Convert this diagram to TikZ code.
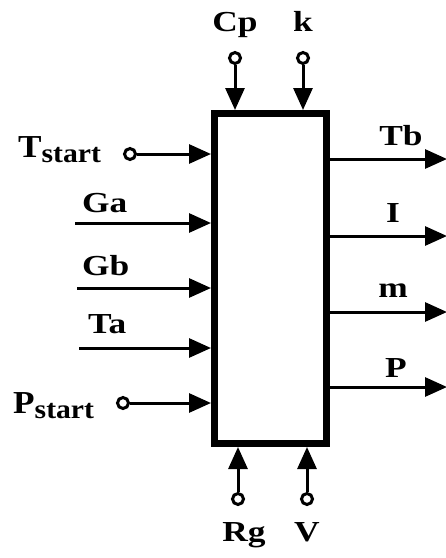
\documentclass[tikz,border=0pt]{standalone}
\usepackage{fontspec}
\setmainfont{Liberation Serif}
\usetikzlibrary{arrows.meta}
\tikzset{
  lbl/.style={inner sep=0pt, font=\bfseries\fontsize{29}{30}\selectfont},
  port/.style={circle, draw, line width=3pt, fill=white, minimum size=11pt, inner sep=0pt},
  conn/.style={line width=3pt, -{Triangle[length=22pt,width=19pt]}},
  block/.style={draw, line width=7pt, minimum width=112pt, minimum height=330pt, inner sep=0pt}
}
\newcommand{\wide}[1]{\scalebox{1.22}[1]{#1}}
\newcommand{\sublbl}[2]{\scalebox{1.1}[1]{\fontsize{32}{32}\selectfont #1\raisebox{-5pt}{\fontsize{27}{30}\selectfont #2}}}
\begin{document}
\begin{tikzpicture}[x=1pt,y=-1pt]
\useasboundingbox (0,0) rectangle (446,558);
\node[block] (box) at (270.5,278.5) {};
% top inputs
\node[port] (cp) at (235,58) {};
\node[port] (k) at (303,58) {};
\draw[conn] (cp) -- (cp |- box.north);
\draw[conn] (k) -- (k |- box.north);
\node[lbl, anchor=base] (lcp) at (235,31) {\wide{Cp}};
\node[lbl, anchor=base] (lk) at (303,31) {\wide{k}};
% bottom inputs
\node[port] (rg) at (238,499) {};
\node[port] (v) at (307,499) {};
\draw[conn] (rg) -- (rg |- box.south);
\draw[conn] (v) -- (v |- box.south);
\node[lbl, anchor=base] (lrg) at (244,541) {\wide{Rg}};
\node[lbl, anchor=base] (lv) at (307,541) {\wide{V}};
% left inputs
\node[port] (ts) at (130,154) {};
\draw[conn] (ts) -- (ts -| box.west);
\node[lbl, anchor=base west] (lts) at (18,157) {\sublbl{T}{start}};
\coordinate (ga) at (75,223);
\draw[conn] (ga) -- (ga -| box.west);
\node[lbl, anchor=base west] (lga) at (82,212) {\wide{Ga}};
\coordinate (gb) at (77,288);
\draw[conn] (gb) -- (gb -| box.west);
\node[lbl, anchor=base west] (lgb) at (82,275) {\wide{Gb}};
\coordinate (ta) at (79,348);
\draw[conn] (ta) -- (ta -| box.west);
\node[lbl, anchor=base west] (lta) at (88,333) {\wide{Ta}};
\node[port] (ps) at (123,403) {};
\draw[conn] (ps) -- (ps -| box.west);
\node[lbl, anchor=base west] (lps) at (13,413) {\sublbl{P}{start}};
% outputs
\coordinate (tb) at (447,159);
\draw[conn] (tb -| box.east) -- (tb);
\node[lbl, anchor=base] (ltb) at (401,145) {\wide{Tb}};
\coordinate (oi) at (447,236);
\draw[conn] (oi -| box.east) -- (oi);
\node[lbl, anchor=base] (li) at (393,222) {\wide{I}};
\coordinate (om) at (447,312);
\draw[conn] (om -| box.east) -- (om);
\node[lbl, anchor=base] (lm) at (393,297) {\wide{m}};
\coordinate (op) at (447,387);
\draw[conn] (op -| box.east) -- (op);
\node[lbl, anchor=base] (lp) at (396,377) {\wide{P}};
\end{tikzpicture}
\end{document}
